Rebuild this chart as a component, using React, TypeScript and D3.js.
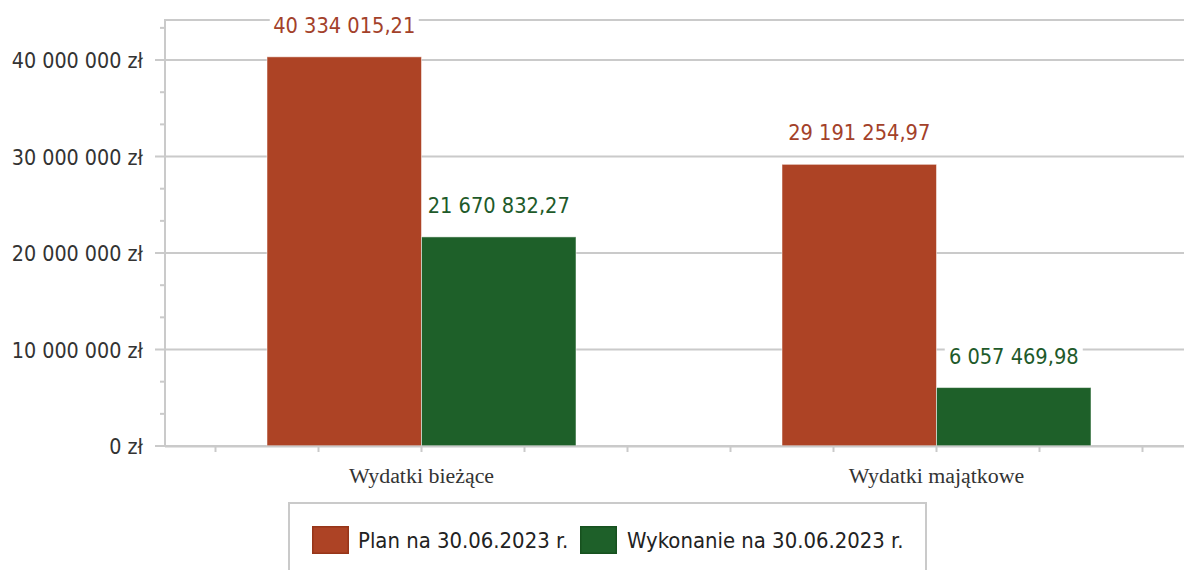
import React from "react";
import * as d3 from "d3";

const categories = ["Wydatki bieżące", "Wydatki majątkowe"];
const seriesNames = ["Plan na 30.06.2023 r.", "Wykonanie na 30.06.2023 r."];
const planValues = [40334015.21, 29191254.97];
const wykonanieValues = [21670832.27, 6057469.98];
const valueLabels = [
  ["40 334 015,21", "29 191 254,97"],
  ["21 670 832,27", "6 057 469,98"],
];
const yTicks = [0, 10000000, 20000000, 30000000, 40000000];
const yTickLabels = ["0 zł", "10 000 000 zł", "20 000 000 zł", "30 000 000 zł", "40 000 000 zł"];

const W = 1184;
const H = 570;
const fill = ["#ad4325", "#1e6029"];
const stroke = ["#963519", "#17511f"];
const textFill = ["#a3412a", "#1e5a2a"];
const grid = "#cacaca";
const SANS = "'DejaVu Sans Condensed', 'DejaVu Sans', sans-serif";
const SERIF = "'Liberation Serif', 'Times New Roman', serif";

export default function App() {
  const plotLeft = 165;
  const y = d3.scaleLinear().domain([0, 44150000]).range([446, 20]);
  const x0 = d3.scaleBand<string>().domain(categories).range([164, 1194]);
  const bw = x0.bandwidth();
  const x1 = d3.scaleBand<string>().domain(seriesNames).range([bw * 0.2, bw * 0.8]);
  const series = [planValues, wykonanieValues];

  const minorTicks = d3.range(0, 44150000, 10000000 / 3).filter((v, i) => i % 3 !== 0);
  const xTicks: number[] = [];
  categories.forEach((c) => {
    const cx = (x0(c) as number) + bw / 2;
    for (let k = -2; k <= 2; k++) xTicks.push(cx + (k * bw) / 5);
  });

  return (
    <svg
      width={W}
      height={H}
      style={{ position: "absolute", left: 0, top: 0, background: "#fff" }}
    >
      {/* gridlines */}
      {yTicks.map((t) => (
        <line key={"g" + t} x1={155} x2={W} y1={y(t)} y2={y(t)} stroke={grid} strokeWidth={2} />
      ))}
      {/* top frame */}
      <line x1={plotLeft} x2={W} y1={y(44150000)} y2={y(44150000)} stroke={grid} strokeWidth={2} />
      {/* minor ticks */}
      {minorTicks.map((t) => (
        <line key={"m" + t} x1={160} x2={plotLeft} y1={y(t)} y2={y(t)} stroke={grid} strokeWidth={2} />
      ))}
      {/* y axis */}
      <line x1={plotLeft} x2={plotLeft} y1={y(44150000) - 1} y2={447} stroke={grid} strokeWidth={2} />
      {/* x ticks */}
      {xTicks.map((tx, i) => (
        <line key={"xt" + i} x1={tx} x2={tx} y1={446} y2={452} stroke={grid} strokeWidth={2} />
      ))}
      {/* y labels */}
      {yTicks.map((t, i) => (
        <text
          key={"yl" + t}
          x={143}
          y={y(t) + 8}
          textAnchor="end"
          fontFamily={SANS}
          fontSize={21.3}
          fill="#333"
        >
          {yTickLabels[i]}
        </text>
      ))}
      {/* bars */}
      {categories.map((c, ci) =>
        seriesNames.map((s, si) => {
          const bx = (x0(c) as number) + (x1(s) as number);
          const v = series[si][ci];
          return (
            <rect
              key={c + s}
              x={bx}
              y={y(v)}
              width={x1.bandwidth()}
              height={y(0) - y(v)}
              fill={fill[si]}
              stroke="#fff"
              strokeOpacity={0.5}
              strokeWidth={1}
            />
          );
        })
      )}
      {/* x axis line */}
      <line x1={plotLeft} x2={W} y1={446.5} y2={446.5} stroke={grid} strokeWidth={2} />
      {/* value labels */}
      {categories.map((c, ci) =>
        seriesNames.map((s, si) => {
          const cx = (x0(c) as number) + (x1(s) as number) + x1.bandwidth() / 2;
          const v = series[si][ci];
          const lbl = valueLabels[si][ci];
          const w = lbl.length * 11;
          return (
            <g key={"vl" + c + s}>
              <rect x={cx - w / 2 - 3} y={y(v) - 44} width={w + 6} height={26} fill="#fff" />
              <text
                x={cx}
                y={y(v) - 24}
                textAnchor="middle"
                fontFamily={SANS}
                fontSize={21.6}
                fill={textFill[si]}
              >
                {lbl}
              </text>
            </g>
          );
        })
      )}
      {/* category labels */}
      {categories.map((c) => (
        <text
          key={"cl" + c}
          x={(x0(c) as number) + bw / 2}
          y={483}
          textAnchor="middle"
          fontFamily={SERIF}
          fontSize={21.9}
          fill="#333"
        >
          {c}
        </text>
      ))}
      {/* legend */}
      <rect x={289} y={503} width={637} height={80} fill="#fff" stroke={grid} strokeWidth={2} />
      {[
        { sx: 312, tx: 358 },
        { sx: 580, tx: 627 },
      ].map((p, i) => (
        <g key={"lg" + i}>
          <rect x={p.sx + 0.75} y={526.75} width={35.5} height={26.5} fill={fill[i]} stroke={stroke[i]} strokeWidth={1.5} />
          <text x={p.tx} y={548} fontFamily={SANS} fontSize={21.9} fill="#222">
            {seriesNames[i]}
          </text>
        </g>
      ))}
    </svg>
  );
}
